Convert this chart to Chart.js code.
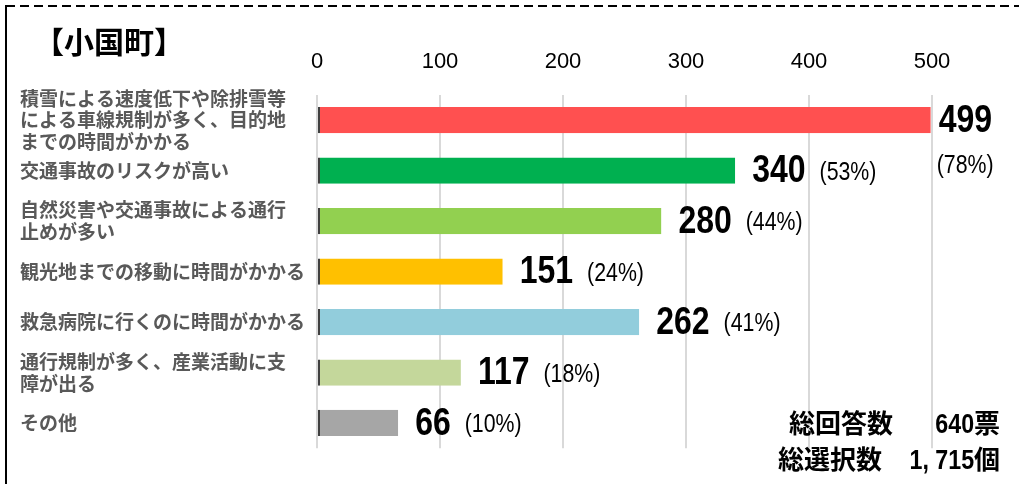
<!DOCTYPE html>
<html>
<head>
<meta charset="utf-8">
<script src="https://cdn.jsdelivr.net/npm/chart.js@4"></script>
<style>
    html, body { margin: 0; padding: 0; background: #fff; }
    #wrap { position: relative; width: 1019px; height: 484px; }
    #chart { position: absolute; left: 0; top: 0; }
    .txt { position: absolute; font-family: "Noto Sans CJK JP", sans-serif; font-weight: bold; color: #000; white-space: pre; font-size: 26px; line-height: 34px; }
    .dg { font-family: "Liberation Sans", sans-serif; font-size: 27px; display: inline-block; transform: scaleX(0.86); transform-origin: right center; }
    #title { left: 34px; top: 20px; font-size: 30px; line-height: 40px; }
    #tot1a { right: 126px; top: 405px; }
    #tot1b { right: 19px; top: 405px; }
    #tot2a { right: 137px; top: 441px; }
    #tot2b { right: 19px; top: 441px; }
</style>
</head>
<body>
<div id="wrap">
    <canvas id="chart" width="1019" height="484"></canvas>
    <div class="txt" id="title">【小国町】</div>
    <div class="txt" id="tot1a">総回答数</div>
    <div class="txt" id="tot1b"><span class="dg">640</span>票</div>
    <div class="txt" id="tot2a">総選択数</div>
    <div class="txt" id="tot2b"><span class="dg">1, 715</span>個</div>
</div>
<script>
const categories = [
    ['積雪による速度低下や除排雪等', 'による車線規制が多く、目的地', 'までの時間がかかる'],
    '交通事故のリスクが高い',
    ['自然災害や交通事故による通行', '止めが多い'],
    '観光地までの移動に時間がかかる',
    '救急病院に行くのに時間がかかる',
    ['通行規制が多く、産業活動に支', '障が出る'],
    'その他'
];
const votes = [499, 340, 280, 151, 262, 117, 66];
const percents = ['(78%)', '(53%)', '(44%)', '(24%)', '(41%)', '(18%)', '(10%)'];
const barColors = ['#FF5050', '#00B050', '#92D050', '#FFC000', '#92CDDC', '#C4D79B', '#A6A6A6'];
const xTicks = [0, 100, 200, 300, 400, 500];

const numFont = '"Liberation Sans", sans-serif';
const squeeze = 0.82;

// frame: dashed top, solid left
const framePlugin = {
    id: 'frame',
    beforeDraw(chart) {
        const ctx = chart.ctx;
        ctx.save();
        ctx.strokeStyle = '#000';
        ctx.lineWidth = 2;
        ctx.setLineDash([9, 5]);
        ctx.beginPath();
        ctx.moveTo(6, 6);
        ctx.lineTo(chart.width, 6);
        ctx.stroke();
        ctx.setLineDash([]);
        ctx.beginPath();
        ctx.moveTo(6, 5);
        ctx.lineTo(6, chart.height);
        ctx.stroke();
        ctx.restore();
    }
};

function narrowText(ctx, text, x, y) {
    ctx.save();
    ctx.translate(x, y);
    ctx.scale(squeeze, 1);
    ctx.fillText(text, 0, 0);
    ctx.restore();
    return ctx.measureText(text).width * squeeze;
}

// value + percent labels next to bars
const valuePlugin = {
    id: 'values',
    afterDatasetsDraw(chart) {
        const ctx = chart.ctx;
        const meta = chart.getDatasetMeta(0);
        ctx.save();
        ctx.fillStyle = '#000';
        ctx.textBaseline = 'middle';
        ctx.textAlign = 'left';
        meta.data.forEach((bar, i) => {
            const num = String(votes[i]);
            ctx.font = 'bold 39px ' + numFont;
            const w = ctx.measureText(num).width * squeeze;
            ctx.font = '26px ' + numFont;
            const pw = ctx.measureText(percents[i]).width * squeeze;
            let x = bar.x + 17;
            const below = x + w + 14 + pw > chart.width - 5;
            if (below) x = bar.x + 8;
            ctx.font = 'bold 39px ' + numFont;
            narrowText(ctx, num, x, bar.y + 1);
            ctx.font = '26px ' + numFont;
            if (below) {
                narrowText(ctx, percents[i], x - 2, bar.y + 46);
            } else {
                narrowText(ctx, percents[i], x + w + 14, bar.y + 2);
            }
        });
        ctx.restore();
    }
};

new Chart(document.getElementById('chart').getContext('2d'), {
    type: 'bar',
    data: {
        labels: categories,
        datasets: [{
            data: votes,
            backgroundColor: barColors,
            borderColor: '#404040',
            borderWidth: { left: 2, top: 0, right: 0, bottom: 0 },
            borderSkipped: false,
            barPercentage: 0.52,
            categoryPercentage: 1
        }]
    },
    options: {
        indexAxis: 'y',
        responsive: false,
        animation: false,
        layout: { padding: { left: 20, right: 87, top: 40, bottom: 12 } },
        plugins: {
            legend: { display: false },
            tooltip: { enabled: false }
        },
        scales: {
            x: {
                position: 'top',
                min: 0,
                max: 500,
                afterBuildTicks(scale) {
                    scale.ticks = xTicks.map(v => ({ value: v }));
                },
                afterFit(scale) { scale.height = 55; },
                border: { display: false },
                grid: { color: '#d9d9d9', lineWidth: 2, drawTicks: false },
                ticks: {
                    padding: 20,
                    color: '#000',
                    font: { family: numFont, size: 22 }
                }
            },
            y: {
                afterFit(scale) { scale.width = 297; },
                border: { display: false },
                grid: { display: false },
                ticks: {
                    autoSkip: false,
                    crossAlign: 'far',
                    color: '#595959',
                    font: { family: '"Noto Sans CJK JP", sans-serif', size: 19, weight: 'bold', lineHeight: 1.15 }
                }
            }
        }
    },
    plugins: [framePlugin, valuePlugin]
});
</script>
</body>
</html>
